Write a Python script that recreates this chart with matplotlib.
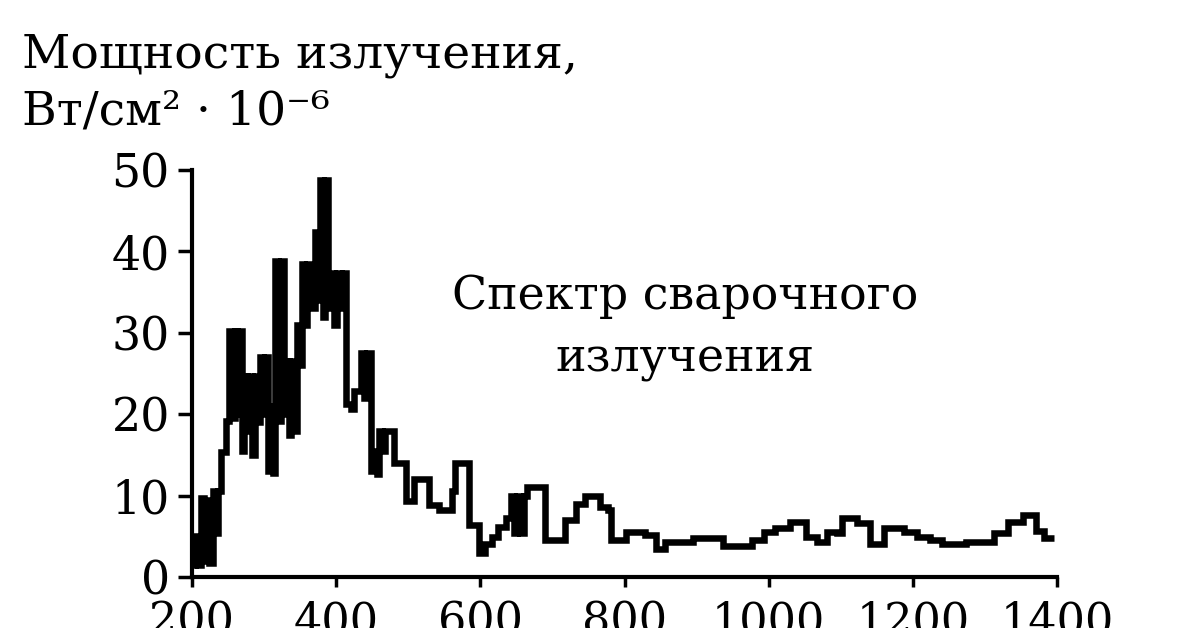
# Спектр сварочного излучения - ступенчатый график
import matplotlib.pyplot as plt

# Границы интервалов длины волны, нм
edges = [200, 204, 208, 212, 216, 220, 224, 229, 233, 236, 240, 247, 252,
         256, 259, 262, 265, 269, 272, 276, 279, 283, 287, 291, 294, 298,
         301, 305, 308, 312, 315, 319, 323, 327, 331, 334, 338, 341, 345,
         349, 352, 356, 360, 366, 370, 374, 377, 381, 385, 389, 393, 397,
         401, 406, 410, 414, 420, 425, 435, 439, 443, 448, 452, 456, 460,
         464, 468, 480, 497, 508, 529, 542, 560, 565, 584, 598, 607, 616,
         625, 635, 643, 647, 651, 655, 660, 664, 690, 718, 732, 745, 766,
         777, 781, 802, 828, 844, 856, 895, 936, 977, 994, 1009, 1029, 1051,
         1067, 1081, 1095, 1102, 1123, 1140, 1160, 1187, 1205, 1223, 1240,
         1274, 1312, 1332, 1353, 1371, 1382, 1395]

# Мощность излучения в каждом интервале, Вт/см2 * 10^-6
power = [1.5, 5.0, 1.5, 9.7, 2.0, 9.5, 1.7, 10.6, 5.4, 10.6, 15.3, 19.2,
         30.2, 19.5, 30.2, 20.0, 30.2, 15.5, 24.7, 18.0, 24.7, 15.0, 24.7,
         19.0, 27.0, 20.0, 27.0, 13.0, 21.0, 12.8, 38.8, 19.2, 38.8, 20.0,
         26.5, 17.4, 26.5, 18.0, 31.0, 26.0, 38.4, 31.0, 38.4, 33.0, 42.4,
         34.0, 48.8, 32.0, 48.8, 33.0, 37.3, 31.0, 37.3, 33.0, 37.3, 21.2,
         20.6, 22.9, 27.5, 22.0, 27.5, 13.0, 15.5, 12.7, 18.0, 15.5, 18.0,
         14.0, 9.4, 12.1, 8.8, 8.2, 10.6, 14.0, 6.4, 2.9, 4.1, 4.9, 6.1,
         7.3, 10.0, 5.4, 10.0, 5.4, 10.0, 11.0, 4.5, 7.0, 9.0, 10.0, 8.6,
         8.2, 4.5, 5.5, 5.1, 3.5, 4.3, 4.8, 3.8, 4.5, 5.5, 6.0, 6.7, 4.9,
         4.3, 5.5, 5.4, 7.3, 6.6, 4.1, 6.0, 5.5, 4.9, 4.5, 4.1, 4.3, 5.4,
         6.7, 7.6, 5.7, 4.8]

x_ticks = [200, 400, 600, 800, 1000, 1200, 1400]
y_ticks = [0, 10, 20, 30, 40, 50]

plt.rcParams["font.family"] = ["DejaVu Serif"]

fig = plt.figure(figsize=(12, 6.28), dpi=100)
ax = fig.add_axes([0.16, 0.0812, 0.721, 0.648])

ax.stairs(power, edges, color="black", linewidth=4.7, baseline=None)

ax.set_xlim(200, 1400)
ax.set_ylim(0, 50)
ax.set_xticks(x_ticks)
ax.set_yticks(y_ticks)

for side in ["top", "right"]:
    ax.spines[side].set_visible(False)
for side in ["left", "bottom"]:
    ax.spines[side].set_linewidth(3)

ax.tick_params(axis="y", direction="out", length=10, width=2.5, pad=6,
               labelsize=33)
ax.tick_params(axis="x", direction="out", length=7, width=2.5, pad=10,
               labelsize=32)

fig.text(0.018, 0.893, "Мощность излучения,", fontsize=34, va="baseline")
fig.text(0.018, 0.801, "Вт/см² · 10⁻⁶", fontsize=34, va="baseline")

ax.text(884, 30.6, "Спектр сварочного\nизлучения", fontsize=33,
        ha="center", va="center", linespacing=1.5)

plt.savefig("out.png", dpi=100)
